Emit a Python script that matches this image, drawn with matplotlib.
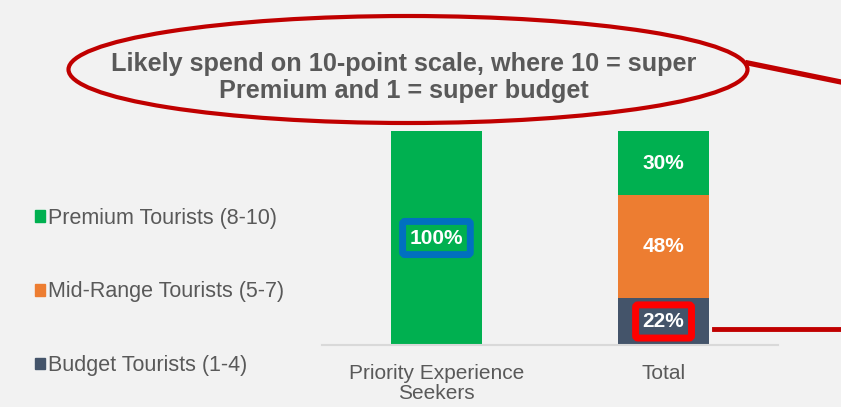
import matplotlib.pyplot as plt
from matplotlib.patches import Ellipse, Patch
from matplotlib.lines import Line2D

plt.rcParams['font.family'] = ['Liberation Sans', 'DejaVu Sans']

categories = ['Priority Experience\nSeekers', 'Total']
segments = ['Budget Tourists (1-4)', 'Mid-Range Tourists (5-7)', 'Premium Tourists (8-10)']
budget = [0, 22]
mid_range = [0, 48]
premium = [100, 30]
colors = ['#44546a', '#ed7d31', '#00b050']

W, H = 841, 407
fig = plt.figure(figsize=(W / 100, H / 100), dpi=100)
fig.patch.set_facecolor('#f2f2f2')

# axes placed in pixel units
ax = fig.add_axes([322 / W, (H - 345) / H, 456 / W, 214 / H])
ax.set_facecolor('#f2f2f2')

x = range(len(categories))
bottom = [0] * len(categories)
for vals, col, name in zip([budget, mid_range, premium], colors, segments):
    ax.bar(x, vals, 0.4, bottom=bottom, color=col, label=name)
    for i, v in enumerate(vals):
        if v > 0:
            box = None
            if categories[i].startswith('Priority') and v == 100:
                box = dict(boxstyle='round,pad=0.34,rounding_size=0.12', fc=col, ec='#0070c0', lw=5)
            elif name.startswith('Budget'):
                box = dict(boxstyle='round,pad=0.34,rounding_size=0.12', fc=col, ec='#ff0000', lw=5)
            ax.text(i, bottom[i] + v / 2, f'{v}%', ha='center', va='center',
                    color='white', fontsize=15, fontweight='bold', bbox=box)
    bottom = [b + v for b, v in zip(bottom, vals)]

ax.set_xlim(-0.504, 1.504)
ax.set_ylim(0, 100)
ax.set_yticks([])
ax.set_xticks(list(x))
ax.set_xticklabels(categories, fontsize=15, color='#595959', linespacing=1.05)
ax.tick_params(axis='x', length=0, pad=14)
for s in ['top', 'left', 'right']:
    ax.spines[s].set_visible(False)
ax.spines['bottom'].set_color('#d9d9d9')
ax.spines['bottom'].set_linewidth(1.5)

handles = [Patch(color=c, label=n) for c, n in zip(colors, segments)][::-1]
fig.legend(handles=handles, loc='center left', bbox_to_anchor=(16 / W, (H - 292) / H),
           frameon=False, fontsize=15.5, labelcolor='#595959', labelspacing=2.45,
           handlelength=0.45, handleheight=0.45, handletextpad=0.15)

# callout ellipse with the title
ell = Ellipse((408 / W, (H - 69.5) / H), 679 / W, 107 / H, transform=fig.transFigure,
              fill=False, ec='#c00000', lw=3)
fig.add_artist(ell)
fig.text(404 / W, (H - 77.5) / H, 'Likely spend on 10-point scale, where 10 = super\nPremium and 1 = super budget',
         ha='center', va='center', fontsize=18.2, fontweight='bold', color='#595959',
         linespacing=1.15)
fig.add_artist(Line2D([748 / W, 841 / W], [(H - 63) / H, (H - 82) / H],
                      transform=fig.transFigure, color='#c00000', lw=3.8))
fig.add_artist(Line2D([714 / W, 841 / W], [(H - 329) / H, (H - 329) / H],
                      transform=fig.transFigure, color='#c00000', lw=3.5))

fig.savefig('out.png', dpi=100, facecolor=fig.get_facecolor())
